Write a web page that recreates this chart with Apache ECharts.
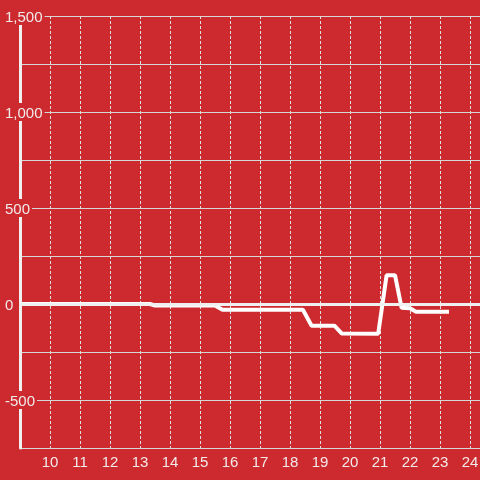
<!DOCTYPE html>
<html>
<head>
<meta charset="utf-8">
<script src="https://cdn.jsdelivr.net/npm/echarts@6/dist/echarts.min.js"></script>
<style>
  html, body { margin: 0; padding: 0; background: #cc2a2f; }
  #chart { width: 480px; height: 480px; }
</style>
</head>
<body>
<div id="chart"></div>
<script>
// hour of day and the value at that moment
const hours = [9, 13.33, 13.5, 15.5, 15.75, 18.43, 18.72, 19.48, 19.72, 20.94, 21.22, 21.5, 21.72, 22.0, 22.2, 23.3]
const values = [0, 0, -8, -8, -30, -30, -113, -113, -153, -155, 150, 150, -20, -22, -40, -40]
const yTicks = [-750, 1500, 250]
const xTicks = [9, 73 / 3, 1]

const chart = echarts.init(document.getElementById('chart'))

const labelFont = 'Liberation Sans, Arial, sans-serif'

chart.setOption({
  backgroundColor: '#cc2a2f',
  animation: false,
  grid: { left: 20, right: 0, top: 16, bottom: 32, outerBoundsMode: 'none' },
  xAxis: {
    type: 'value',
    min: xTicks[0],
    max: xTicks[1],
    interval: xTicks[2],
    axisLine: { show: true, lineStyle: { color: '#d6d6d6', width: 1 } },
    axisTick: { show: false },
    axisLabel: {
      margin: 7,
      color: '#f2eaea',
      fontSize: 15,
      fontFamily: labelFont,
      showMinLabel: false,
      formatter: v => (Number.isInteger(v) && v > 9) ? String(v) : ''
    },
    splitLine: { show: true, lineStyle: { color: '#e0e0e0', type: [3, 2], width: 1 } }
  },
  yAxis: {
    type: 'value',
    min: yTicks[0],
    max: yTicks[1],
    interval: yTicks[2],
    axisLine: { show: true, lineStyle: { color: '#f0f0f0', width: 3 } },
    axisTick: { show: false },
    axisLabel: {
      align: 'left',
      margin: 15,
      formatter: v => (v % 500 === 0 && v !== -750) ? '{a|' + v.toLocaleString('en-US') + '}' : '',
      rich: {
        a: {
          color: '#f2eaea',
          fontSize: 15,
          fontFamily: labelFont,
          backgroundColor: '#cc2a2f',
          padding: [3, 2, 0, 0]
        }
      }
    },
    splitLine: { show: true, lineStyle: { color: '#d6d6d6', width: 1 } }
  },
  series: [{
    type: 'line',
    data: hours.map((h, i) => [h, values[i]]),
    showSymbol: false,
    lineStyle: { color: '#ffffff', width: 4 },
    markLine: {
      silent: true,
      symbol: 'none',
      label: { show: false },
      lineStyle: { color: '#f0f0f0', width: 3, type: 'solid' },
      data: [{ yAxis: 0 }]
    }
  }]
})
</script>
</body>
</html>
